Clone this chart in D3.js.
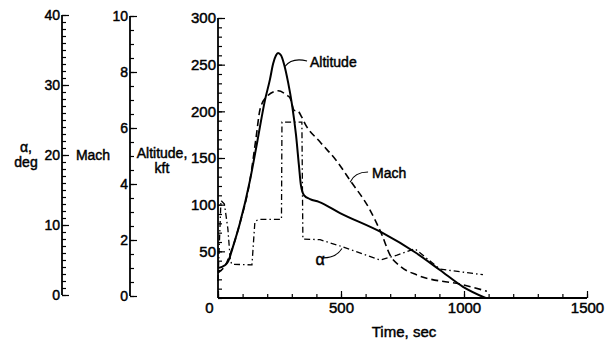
<!DOCTYPE html>
<html>
<head>
<meta charset="utf-8">
<script src="https://cdn.jsdelivr.net/npm/d3@7"></script>
<style>
  body { margin: 0; background: #fff; }
  svg text { font-family: "Liberation Sans", Arial, sans-serif; fill: #000; }
</style>
</head>
<body>
<svg id="canvas"></svg>
<script>
// altitude, kft  [time sec, value]
const altitude = [[0,32],[28,35],[41,39],[61,55],[89,80],[130,126],[160,168],[191,212],[211,234],
  [224,251],[236,260],[244,262.5],[256,260],[268,251],[285,231],[301,207],[317,175],[329,142],
  [337,121],[350,110],[374,106],[410,103],[496,91],[667,70],[801,49],[902,30],[996,12],[1088,0]];
// Mach number
const mach = [[0,0.83],[30,1.1],[61,1.77],[89,2.6],[130,4.13],[155,5.67],[171,6.67],[199,7.13],
  [244,7.33],[280,7.17],[293,7.07],[310,6.63],[325,6.6],[340,6.4],[354,6.15],[415,5.5],[480,4.85],
  [537,4.13],[618,3.07],[667,2.17],[699,1.47],[740,1.07],[809,0.75],[996,0.4],[1093,0.17]];
// angle of attack, deg
const alpha = [[0,2],[12,13.5],[26,13],[40,9.5],[50,5],[56,4.4],[138,4.3],[150,10.5],[165,10.8],
  [258,10.8],[260,24.7],[341,24.7],[345,8],[415,7.9],[496,7],[659,5],[728,5.7],[801,6.6],
  [902,3.7],[1077,2.9]];

const timeTicks = [0, 500, 1000, 1500];
const altTicks = [50, 100, 150, 200, 250, 300];
const alphaTicks = [0, 10, 20, 30, 40];
const machTicks = [0, 2, 4, 6, 8, 10];

// annotations: label position and leader line, in data units
const labels = [
  { text: 'Altitude', t: 374, v: 253, from: [272, 248], to: [362, 254], ctrl: [300, 258] },
  { text: 'Mach', t: 626, v: 134, from: [537, 124], to: [610, 135], ctrl: [555, 135] },
  { text: 'α', t: 396, v: 41, from: [427, 43], to: [504, 53], ctrl: [480, 43] }
];

const w = 608, h = 341;
const svg = d3.select('#canvas').attr('width', w).attr('height', h);

const x = d3.scaleLinear().domain([0, 1500]).range([218, 587]);
const y = d3.scaleLinear().domain([0, 300]).range([298, 18]);
const yAlpha = d3.scaleLinear().domain([0, 40]).range([295, 15]);
const yMach = d3.scaleLinear().domain([0, 10]).range([296, 16]);

function styleAxis(g, size) {
  g.selectAll('.domain').remove();
  g.selectAll('line').attr('stroke', '#000').attr('stroke-width', 1.2);
  g.selectAll('text').style('font-size', size + 'px').attr('fill', '#000')
    .attr('stroke', '#000').attr('stroke-width', 0.45);
}

function leftAxis(scale, xpos, major, minorStep, size) {
  const dom = scale.domain();
  svg.append('g').attr('transform', 'translate(' + xpos + ',0)')
    .call(d3.axisLeft(scale).tickValues(d3.range(dom[0], dom[1] + 1e-9, minorStep))
      .tickFormat('').tickSize(-4).tickSizeOuter(0))
    .call(g => styleAxis(g, size));
  svg.append('g').attr('transform', 'translate(' + xpos + ',0)')
    .call(d3.axisLeft(scale).tickValues(major).tickSize(-7).tickPadding(2).tickSizeOuter(0))
    .call(g => styleAxis(g, size));
  svg.append('line').attr('x1', xpos).attr('x2', xpos)
    .attr('y1', scale.range()[0]).attr('y2', scale.range()[1])
    .attr('stroke', '#000').attr('stroke-width', 1.8);
}

leftAxis(yAlpha, 62, alphaTicks, 1, 14);
leftAxis(yMach, 130, machTicks, 0.5, 14);
leftAxis(y, 218, altTicks, 10, 15);

// x axis
svg.append('g').attr('transform', 'translate(0,' + y(0) + ')')
  .call(d3.axisBottom(x).tickValues(d3.range(0, 1501, 100)).tickFormat('').tickSize(-4).tickSizeOuter(0))
  .call(g => styleAxis(g, 15));
const xa = svg.append('g').attr('transform', 'translate(0,' + y(0) + ')')
  .call(d3.axisBottom(x).tickValues(timeTicks).tickFormat(d3.format('d'))
    .tickSize(-7).tickPadding(4).tickSizeOuter(0))
  .call(g => styleAxis(g, 15));
xa.selectAll('.tick').filter(d => d === 0).select('text').attr('x', -9);
svg.append('line').attr('x1', x(0)).attr('x2', x(1500)).attr('y1', y(0)).attr('y2', y(0))
  .attr('stroke', '#000').attr('stroke-width', 1.8);

// axis titles
function title(lines, cx, cy) {
  const t = svg.append('text').attr('text-anchor', 'middle').style('font-size', '14px')
    .attr('stroke', '#000').attr('stroke-width', 0.45);
  lines.forEach((s, i) => {
    t.append('tspan').attr('x', cx).attr('y', cy + i * 15).text(s);
  });
}
title(['α,', 'deg'], 26, 152);
title(['Mach'], 93, 160);
title(['Altitude,', 'kft'], 162, 158);
svg.append('text').attr('x', 404).attr('y', 337).attr('text-anchor', 'middle')
  .style('font-size', '15px').attr('stroke', '#000').attr('stroke-width', 0.45).text('Time, sec');

// curves
const lineAlt = d3.line().x(d => x(d[0])).y(d => y(d[1])).curve(d3.curveMonotoneX);
const lineMach = d3.line().x(d => x(d[0])).y(d => yMach(d[1])).curve(d3.curveMonotoneX);
const lineAlpha = d3.line().x(d => x(d[0])).y(d => yAlpha(d[1]));

svg.append('path').datum(mach).attr('d', lineMach).attr('fill', 'none')
  .attr('stroke', '#000').attr('stroke-width', 1.6).attr('stroke-dasharray', '7,4');
svg.append('path').datum(alpha).attr('d', lineAlpha).attr('fill', 'none')
  .attr('stroke', '#000').attr('stroke-width', 1.3).attr('stroke-dasharray', '6,3,1.5,3');
svg.append('path').datum(altitude).attr('d', lineAlt).attr('fill', 'none')
  .attr('stroke', '#000').attr('stroke-width', 2);

// labels with leader lines
labels.forEach(l => {
  svg.append('path')
    .attr('d', 'M' + x(l.from[0]) + ',' + y(l.from[1]) + 'Q' + x(l.ctrl[0]) + ',' + y(l.ctrl[1]) +
      ' ' + x(l.to[0]) + ',' + y(l.to[1]))
    .attr('fill', 'none').attr('stroke', '#000').attr('stroke-width', 1.1);
  svg.append('text').attr('x', x(l.t)).attr('y', y(l.v)).attr('dy', '0.35em')
    .style('font-size', l.text === 'α' ? '16px' : '14px')
    .attr('stroke', '#000').attr('stroke-width', 0.45).text(l.text);
});
</script>
</body>
</html>
